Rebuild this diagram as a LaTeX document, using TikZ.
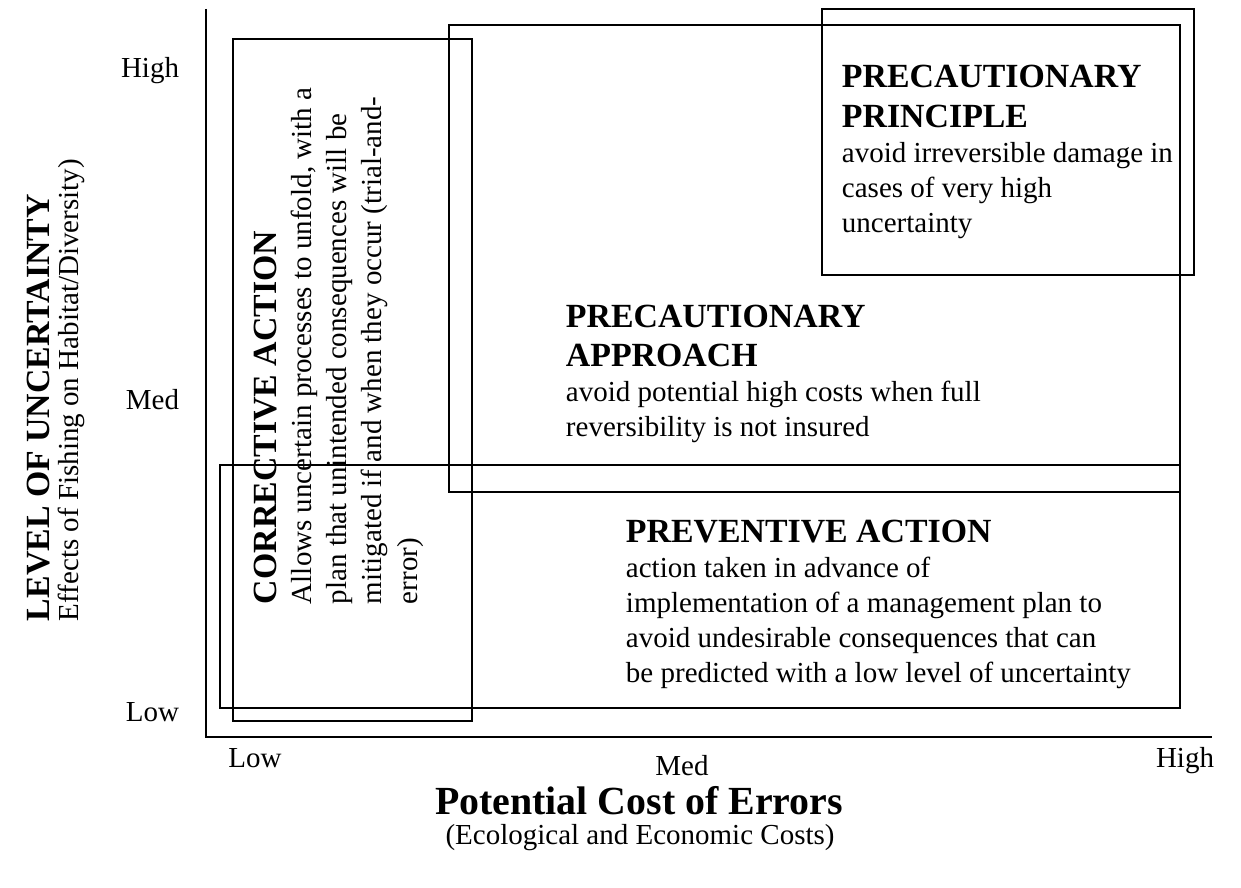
\documentclass[tikz,border=0pt]{standalone}
\usepackage{fontspec}
\setmainfont{Liberation Serif}
\newcommand{\headfont}{\fontsize{14}{16.5}\selectfont\bfseries}
\newcommand{\bodyfont}{\fontsize{12}{14.5}\selectfont}
\begin{document}
\begin{tikzpicture}[x=0.4138pt,y=-0.4138pt,line width=0.8pt,
  zone/.style={draw,line width=0.8pt},
  blocktext/.style={anchor=base west,align=left,inner sep=0pt,font=\bodyfont},
  ticklabel/.style={inner sep=0pt,font=\fontsize{12}{14}\selectfont}]
\useasboundingbox (0,0) rectangle (1241,888);
\coordinate (origin) at (206,737);
\coordinate (ytop) at (206,9);
\coordinate (xend) at (1212,737);
\draw (ytop)--(origin)--(xend);
\draw[zone] (233,39) rectangle (472,721);
\draw[zone] (220,465) rectangle (1180,708);
\draw[zone] (449,25) rectangle (1180,492);
\draw[zone] (822,9) rectangle (1194,275);
% blocks are anchored at the baseline of their last line
\node[blocktext] (principle) at (841,233)
  {{\headfont PRECAUTIONARY}\\[2pt]{\headfont PRINCIPLE}\\avoid irreversible damage in\\cases of very high\\uncertainty};
\node[blocktext] (approach) at (565,437)
  {{\headfont PRECAUTIONARY}\\[2pt]{\headfont APPROACH}\\avoid potential high costs when full\\reversibility is not insured};
\node[blocktext] (preventive) at (625,683)
  {{\headfont PREVENTIVE ACTION}\\action taken in advance of\\implementation of a management plan to\\avoid undesirable consequences that can\\be predicted with a low level of uncertainty};
\node[blocktext,rotate=90] (corrective) at (417,605)
  {{\headfont CORRECTIVE ACTION}\\Allows uncertain processes to unfold, with a\\plan that unintended consequences will be\\mitigated if and when they occur (trial-and-\\error)};
\node[ticklabel,anchor=base east] (yhigh) at (180,78) {High};
\node[ticklabel,anchor=base east] (ymed) at (180,410) {Med};
\node[ticklabel,anchor=base east] (ylow) at (180,722) {Low};
\node[ticklabel,anchor=base] (xlow) at (255,767) {Low};
\node[ticklabel,anchor=base] (xmed) at (682,775) {Med};
\node[ticklabel,anchor=base] (xhigh) at (1185,767) {High};
\node[anchor=base,inner sep=0pt,font=\fontsize{16.5}{18}\selectfont\bfseries] (xtitle) at (639,814) {Potential Cost of Errors};
\node[ticklabel,anchor=base] (xsub) at (640,844) {(Ecological and Economic Costs)};
\node[rotate=90,anchor=base west,inner sep=0pt,font=\headfont] (ytitle) at (49,622) {LEVEL OF UNCERTAINTY};
\node[ticklabel,rotate=90,anchor=base west] (ysub) at (78,622) {Effects of Fishing on Habitat/Diversity)};
\end{tikzpicture}
\end{document}
